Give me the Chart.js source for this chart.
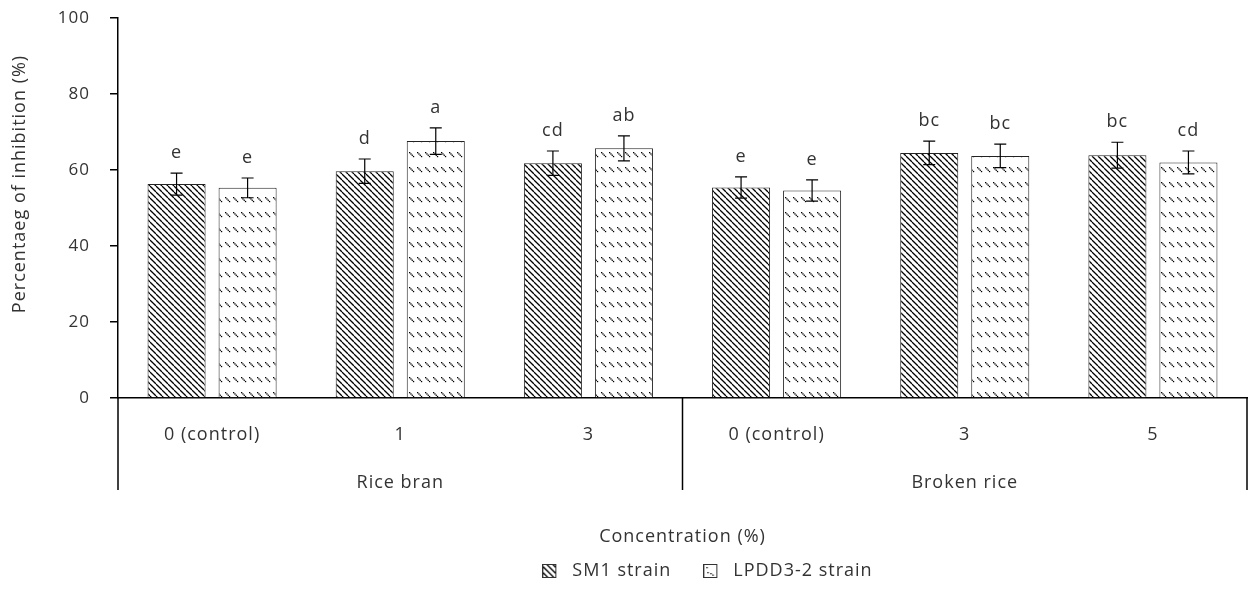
<!DOCTYPE html>
<html>
<head>
<meta charset="utf-8">
<script src="https://cdn.jsdelivr.net/npm/chart.js@4.4.0/dist/chart.umd.min.js"></script>
<style>
  html, body { margin: 0; padding: 0; background: #ffffff; }
  #wrap { width: 1249px; height: 606px; position: relative; }
</style>
</head>
<body>
<div id="wrap"><canvas id="c"></canvas></div>
<script>
// ---- data ----
const categories = ['0 (control)', '1', '3', '0 (control)', '3', '5'];
const groups = ['Rice bran', 'Broken rice'];
const seriesNames = ['SM1 strain', 'LPDD3-2 strain'];
const sm1Values = [56.3, 59.7, 61.8, 55.4, 64.5, 63.9];
const sm1Errors = [2.9, 3.2, 3.2, 2.8, 3.1, 3.4];
const sm1Letters = ['e', 'd', 'cd', 'e', 'bc', 'bc'];
const lpddValues = [55.3, 67.6, 65.7, 54.6, 63.7, 62.0];
const lpddErrors = [2.6, 3.5, 3.3, 2.8, 3.1, 3.0];
const lpddLetters = ['e', 'a', 'ab', 'e', 'bc', 'cd'];
const yTicks = [0, 20, 40, 60, 80, 100];
const yTitle = 'Percentaeg of inhibition (%)';
const xTitle = 'Concentration (%)';

// ---- patterns ----
function drawDiag(g, w, h) {
  g.strokeStyle = '#000'; g.lineWidth = 1.25;
  for (let o = -h; o < w + h; o += 6) {
    g.beginPath(); g.moveTo(o, 0); g.lineTo(o + h, h); g.stroke();
  }
}
function makeDiagPattern() {
  const s = 6;
  const c = document.createElement('canvas');
  c.width = s; c.height = s;
  const g = c.getContext('2d');
  g.fillStyle = '#fff'; g.fillRect(0, 0, s, s);
  drawDiag(g, s, s);
  return g.createPattern(c, 'repeat');
}
function dashTile(g, ox, oy) {
  for (let i = 0; i < 4; i++) g.fillRect(ox + 1 + i * 1.3, oy + 2 + i * 1.3, 1.3, 1.3);
}
function makeDashPattern() {
  const w = 8, h = 15;
  const c = document.createElement('canvas');
  c.width = w; c.height = h;
  const g = c.getContext('2d');
  g.fillStyle = '#fff'; g.fillRect(0, 0, w, h);
  g.fillStyle = '#000';
  dashTile(g, 0, 0);
  return g.createPattern(c, 'repeat');
}
function makeIcon(kind) {
  const c = document.createElement('canvas');
  c.width = 21; c.height = 14;
  const g = c.getContext('2d');
  g.save();
  g.beginPath(); g.rect(0.5, 0.5, 13, 13); g.clip();
  g.fillStyle = '#fff'; g.fillRect(0, 0, 14, 14);
  if (kind === 0) { drawDiag(g, 14, 14); }
  else { g.fillStyle = '#000'; g.fillRect(4, 8, 1.3, 1.3); g.fillRect(7, 9, 1.3, 1.3); g.fillRect(9, 10.5, 1.3, 1.3); g.fillRect(3, 3, 1.3, 1.3); }
  g.restore();
  g.strokeStyle = '#333'; g.lineWidth = 1;
  g.strokeRect(0.5, 0.5, 13, 13);
  return c;
}
const sm1Pattern = makeDiagPattern();
const lpddPattern = makeDashPattern();
const legendIcons = [makeIcon(0), makeIcon(1)];

const FONT = "'Open Sans', 'Noto Sans', sans-serif";
const TXT = '#333333';
Chart.defaults.font.family = FONT;
Chart.defaults.font.size = 18;
Chart.defaults.color = TXT;

const errLists = [sm1Errors, lpddErrors];
const letterLists = [sm1Letters, lpddLetters];

function setSpacing(chart) { try { chart.ctx.letterSpacing = '1px'; } catch (e) {} }

const decorPlugin = {
  id: 'decor',
  beforeLayout(chart) { setSpacing(chart); },
  afterLayout(chart) {
    chart.legend.left += 84;
    chart.legend.right += 84;
  },
  beforeDraw(chart) { setSpacing(chart); },
  afterDatasetsDraw(chart) {
    const ctx = chart.ctx;
    const ys = chart.scales.y;
    ctx.save();
    chart.data.datasets.forEach((ds, di) => {
      const meta = chart.getDatasetMeta(di);
      meta.data.forEach((bar, i) => {
        const v = ds.data[i], e = errLists[di][i];
        const x = bar.x;
        const yt = ys.getPixelForValue(v + e);
        const yb = ys.getPixelForValue(v - e);
        ctx.strokeStyle = '#000'; ctx.lineWidth = 1.2;
        ctx.beginPath();
        ctx.moveTo(x, yt); ctx.lineTo(x, yb);
        ctx.moveTo(x - 6, yt); ctx.lineTo(x + 6, yt);
        ctx.moveTo(x - 6, yb); ctx.lineTo(x + 6, yb);
        ctx.stroke();
        ctx.fillStyle = TXT;
        ctx.font = '18px ' + FONT;
        ctx.textAlign = 'center';
        ctx.textBaseline = 'middle';
        ctx.fillText(letterLists[di][i], x, yt - 20);
      });
    });
    ctx.restore();
  },
  afterDraw(chart) {
    const ctx = chart.ctx;
    const xs = chart.scales.x;
    const n = categories.length;
    const mid = (xs.getPixelForValue(n / 2 - 1) + xs.getPixelForValue(n / 2)) / 2;
    ctx.save();
    ctx.strokeStyle = '#000'; ctx.lineWidth = 1.5;
    for (const px of [xs.left, mid, xs.right]) {
      ctx.beginPath(); ctx.moveTo(px, xs.top); ctx.lineTo(px, xs.top + 92); ctx.stroke();
    }
    // y axis title
    ctx.translate(20, 184);
    ctx.rotate(-Math.PI / 2);
    ctx.fillStyle = TXT;
    ctx.font = '18px ' + FONT;
    ctx.textAlign = 'center';
    ctx.textBaseline = 'middle';
    ctx.fillText(yTitle, 0, 0);
    ctx.restore();
  }
};

new Chart(document.getElementById('c'), {
  type: 'bar',
  data: {
    labels: categories,
    datasets: [
      { label: seriesNames[0], data: sm1Values, backgroundColor: sm1Pattern, borderColor: '#222', borderWidth: 1,
        categoryPercentage: 0.755, barPercentage: 0.817 },
      { label: seriesNames[1], data: lpddValues, backgroundColor: lpddPattern, borderColor: '#222', borderWidth: 1,
        categoryPercentage: 0.755, barPercentage: 0.817 }
    ]
  },
  options: {
    responsive: true,
    maintainAspectRatio: false,
    animation: false,
    layout: { padding: { top: 18, right: 2, left: 0, bottom: 16 } },
    plugins: {
      legend: {
        position: 'bottom',
        labels: {
          usePointStyle: true, pointStyleWidth: 21, boxHeight: 14, padding: 32, color: TXT, font: { size: 18 },
          generateLabels(chart) {
            const items = Chart.defaults.plugins.legend.labels.generateLabels(chart);
            items.forEach((it, i) => { it.pointStyle = legendIcons[i]; });
            return items;
          }
        }
      },
      tooltip: { enabled: false }
    },
    scales: {
      y: {
        min: 0, max: 100,
        afterBuildTicks(s) { s.ticks = yTicks.map(v => ({ value: v })); },
        afterFit(s) { s.width = 118; s.paddingTop = 0; },
        border: { display: true, color: '#000', width: 1.5 },
        grid: { display: true, drawOnChartArea: false, drawTicks: true, tickLength: 8, color: '#000', lineWidth: 1.5 },
        ticks: { padding: 20, color: TXT, font: { size: 17 } },
        title: { display: false }
      },
      x: {
        position: 'bottom',
        afterFit(s) { s.height = 45; },
        border: { display: true, color: '#000', width: 1.5 },
        grid: { display: false },
        ticks: { padding: 18, color: TXT, font: { size: 18 }, maxRotation: 0 }
      },
      x2: {
        type: 'category',
        position: 'bottom',
        labels: groups,
        offset: true,
        afterFit(s) { s.height = 87; },
        border: { display: false },
        grid: { display: false },
        ticks: { padding: 21, color: TXT, font: { size: 18 }, maxRotation: 0 },
        title: { display: true, text: xTitle, color: TXT, font: { size: 18 }, padding: { top: 0, bottom: -18 } }
      }
    }
  },
  plugins: [decorPlugin]
});
</script>
</body>
</html>
